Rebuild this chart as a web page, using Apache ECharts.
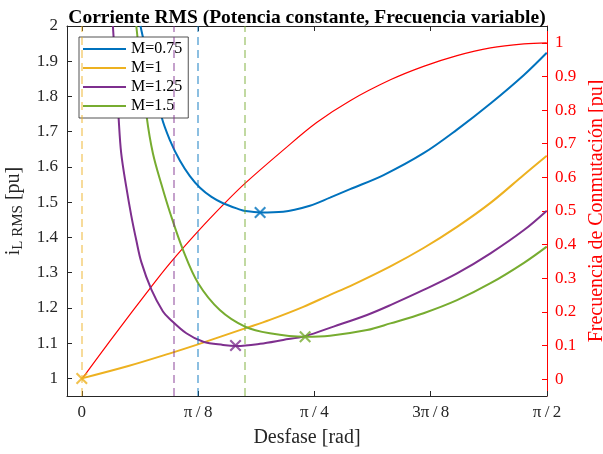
<!DOCTYPE html>
<html>
<head>
<meta charset="utf-8">
<script src="https://cdn.jsdelivr.net/npm/echarts@6/dist/echarts.min.js"></script>
<style>
  html, body { margin: 0; padding: 0; background: #fff; }
  #chart { width: 603px; height: 454px; }
</style>
</head>
<body>
<div id="chart"></div>
<script>
// curvas (desfase en rad, corriente en pu)
const phi075 = [0.198, 0.269, 0.297, 0.331, 0.365, 0.399, 0.438, 0.477, 0.534, 0.551, 0.602, 0.680, 0.770, 0.838, 0.906, 1.019, 1.154, 1.267, 1.380, 1.493, 1.570]
const i075 = [2.000, 1.743, 1.677, 1.618, 1.574, 1.541, 1.515, 1.497, 1.479, 1.475, 1.471, 1.473, 1.490, 1.513, 1.537, 1.577, 1.639, 1.706, 1.780, 1.861, 1.924]

const phi100 = [0, 0.157, 0.298, 0.387, 0.551, 0.635, 0.748, 0.838, 0.906, 1.042, 1.154, 1.267, 1.380, 1.493, 1.570]
const i100 = [1.000, 1.035, 1.071, 1.095, 1.142, 1.166, 1.203, 1.237, 1.262, 1.318, 1.370, 1.430, 1.498, 1.578, 1.632]

const phi125 = [0.105, 0.124, 0.133, 0.150, 0.167, 0.184, 0.201, 0.235, 0.274, 0.298, 0.353, 0.410, 0.477, 0.523, 0.602, 0.680, 0.754, 0.850, 0.963, 1.042, 1.154, 1.267, 1.380, 1.493, 1.570]
const i125 = [2.000, 1.743, 1.639, 1.544, 1.462, 1.392, 1.330, 1.252, 1.190, 1.168, 1.128, 1.104, 1.095, 1.092, 1.098, 1.109, 1.120, 1.147, 1.180, 1.208, 1.251, 1.298, 1.355, 1.421, 1.476]

const phi150 = [0.184, 0.219, 0.240, 0.269, 0.298, 0.342, 0.393, 0.466, 0.551, 0.635, 0.754, 0.838, 0.963, 1.042, 1.154, 1.267, 1.380, 1.493, 1.570]
const i150 = [2.000, 1.743, 1.639, 1.550, 1.470, 1.364, 1.270, 1.194, 1.147, 1.128, 1.118, 1.121, 1.137, 1.156, 1.185, 1.222, 1.270, 1.328, 1.374]

// frecuencia de conmutacion (eje derecho)
const phiF = [0, 0.105, 0.233, 0.298, 0.393, 0.477, 0.551, 0.680, 0.793, 0.906, 1.042, 1.154, 1.267, 1.380, 1.493, 1.570]
const freq = [0, 0.125, 0.273, 0.345, 0.440, 0.518, 0.582, 0.681, 0.763, 0.828, 0.890, 0.930, 0.962, 0.985, 0.997, 1.000]

// orden: M=0.75, M=1, M=1.25, M=1.5
const names = ['M=0.75', 'M=1', 'M=1.25', 'M=1.5']
const colors = ['#0072BD', '#EDB120', '#7E2F8E', '#77AC30']
const optPhi = [0.391, 0, 0.311, 0.551] // lineas verticales discontinuas
const minPhi = [0.602, 0, 0.519, 0.754] // marcadores x
const minI = [1.471, 1.000, 1.093, 1.118]

const xTickLabels = ['0', 'π\u2009/\u20098', 'π\u2009/\u20094', '3π\u2009/\u20098', 'π\u2009/\u20092']
const xTicks = xTickLabels.map((s, k) => k * Math.PI / 8)
const yLeftTicks = [1, 1.1, 1.2, 1.3, 1.4, 1.5, 1.6, 1.7, 1.8, 1.9, 2]
const yRightTicks = [0, 0.1, 0.2, 0.3, 0.4, 0.5, 0.6, 0.7, 0.8, 0.9, 1]

const curves = [[phi075, i075], [phi100, i100], [phi125, i125], [phi150, i150]]
const zip = (a, b) => a.map((v, k) => [v, b[k]])

const FONT = 'Liberation Serif'
const AX = '#262626'
const CROSS = 'path://M0,1.5L1.5,0L6,4.5L10.5,0L12,1.5L7.5,6L12,10.5L10.5,12L6,7.5L1.5,12L0,10.5L4.5,6Z'

const series = [{
  name: 'freq',
  type: 'line',
  yAxisIndex: 1,
  data: zip(phiF, freq),
  showSymbol: false,
  smooth: 0.35,
  lineStyle: { color: '#FF0000', width: 1.2 },
  z: 2
}]

curves.forEach((c, k) => {
  series.push({
    name: names[k],
    type: 'line',
    yAxisIndex: 0,
    data: zip(c[0], c[1]),
    showSymbol: false,
    smooth: 0.35,
    color: colors[k],
    lineStyle: { color: colors[k], width: 2 },
    z: 3,
    markLine: {
      silent: true,
      symbol: ['none', 'none'],
      label: { show: false },
      lineStyle: { color: colors[k], opacity: 0.6, width: 1.5, type: [8, 5] },
      data: [{ xAxis: optPhi[k] }]
    }
  })
})

names.forEach((n, k) => {
  series.push({
    name: 'min ' + n,
    type: 'scatter',
    yAxisIndex: 0,
    data: [[minPhi[k], minI[k]]],
    symbol: CROSS,
    symbolSize: 12,
    itemStyle: { color: colors[k] },
    z: 5
  })
})

const chart = echarts.init(document.getElementById('chart'))
chart.setOption({
  animation: false,
  title: {
    text: 'Corriente RMS (Potencia constante, Frecuencia variable)',
    left: 302,
    top: 3,
    textAlign: 'center',
    textStyle: { fontFamily: FONT, fontWeight: 'bold', fontSize: 19.5, color: '#000' }
  },
  legend: {
    data: names,
    orient: 'vertical',
    left: 79,
    top: 37,
    icon: 'rect',
    itemWidth: 43,
    itemHeight: 2,
    itemGap: 3,
    padding: [4, 6, 4, 4],
    backgroundColor: '#fff',
    borderColor: AX,
    borderWidth: 0.8,
    borderRadius: 0,
    textStyle: { fontFamily: FONT, fontSize: 16, color: '#000' }
  },
  grid: { left: 67, right: 56, top: 26, bottom: 58, containLabel: false, outerBoundsMode: 'none' },
  xAxis: [{
    type: 'value',
    position: 'bottom',
    min: -0.05,
    max: Math.PI / 2,
    axisLine: { show: true, onZero: false, lineStyle: { color: AX, width: 1 } },
    axisTick: { show: true, inside: true, length: 5, customValues: xTicks, lineStyle: { color: AX } },
    axisLabel: {
      customValues: xTicks,
      margin: 8,
      fontFamily: FONT,
      fontSize: 17,
      color: AX,
      formatter: v => xTickLabels[Math.round(v / (Math.PI / 8))]
    },
    splitLine: { show: false },
    name: 'Desfase [rad]',
    nameLocation: 'middle',
    nameGap: 32,
    nameTextStyle: { fontFamily: FONT, fontSize: 20, color: AX }
  }, {
    type: 'value',
    position: 'top',
    min: -0.05,
    max: Math.PI / 2,
    axisLine: { show: true, onZero: false, lineStyle: { color: AX, width: 1 } },
    axisTick: { show: true, inside: true, length: 5, customValues: xTicks, lineStyle: { color: AX } },
    axisLabel: { show: false },
    splitLine: { show: false }
  }],
  yAxis: [{
    type: 'value',
    position: 'left',
    min: 0.95,
    max: 2,
    axisLine: { show: true, onZero: false, lineStyle: { color: AX, width: 1 } },
    axisTick: { show: true, inside: true, length: 5, customValues: yLeftTicks, lineStyle: { color: AX } },
    axisLabel: {
      customValues: yLeftTicks,
      margin: 9,
      fontFamily: FONT,
      fontSize: 17,
      color: AX,
      formatter: v => String(Math.round(v * 10) / 10)
    },
    splitLine: { show: false },
    name: '{i|i}{s|L RMS}{u| [pu]}',
    nameLocation: 'middle',
    nameGap: 35,
    nameTextStyle: {
      rich: {
        i: { fontFamily: FONT, fontSize: 20, color: AX, lineHeight: 24 },
        s: { fontFamily: FONT, fontSize: 15, color: AX, lineHeight: 15, verticalAlign: 'bottom' },
        u: { fontFamily: FONT, fontSize: 20, color: AX, lineHeight: 24 }
      }
    }
  }, {
    type: 'value',
    position: 'right',
    min: -0.05,
    max: 1.05,
    axisLine: { show: true, onZero: false, lineStyle: { color: '#FF0000', width: 1 } },
    axisTick: { show: true, inside: true, length: 5, customValues: yRightTicks, lineStyle: { color: '#FF0000' } },
    axisLabel: {
      customValues: yRightTicks,
      margin: 8,
      fontFamily: FONT,
      fontSize: 17,
      color: '#FF0000',
      formatter: v => String(Math.round(v * 10) / 10)
    },
    splitLine: { show: false },
    name: 'Frecuencia de Conmutación [pu]',
    nameLocation: 'middle',
    nameGap: 36,
    nameTextStyle: { fontFamily: FONT, fontSize: 20, color: '#FF0000' }
  }],
  series: series
})
</script>
</body>
</html>
